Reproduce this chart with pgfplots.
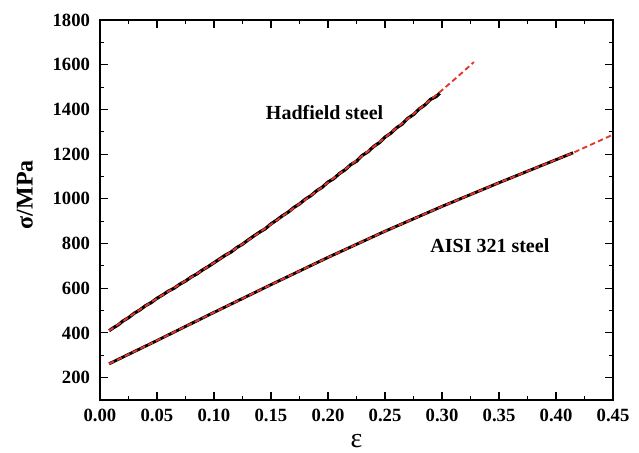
\documentclass[border=0pt]{standalone}
\usepackage{pgfplots}
\pgfplotsset{compat=1.18}
\usepackage{fontspec}
\setmainfont{Liberation Serif}
\definecolor{fitred}{RGB}{232,52,40}
\begin{document}
\begin{tikzpicture}
\begin{axis}[
  name=ax, at={(0,0)}, anchor=south west,
  scale only axis, width=384.75pt, height=285pt,
  xmin=0, xmax=0.45, ymin=100, ymax=1800,
  xtick={0,0.05,...,0.451}, ytick={200,400,...,1800},
  minor x tick num=1, minor y tick num=1,
  tick align=inside,
  major tick length=6pt, minor tick length=3pt,
  axis line style={line width=0.8pt},
  every tick/.style={line width=0.8pt, black},
  /pgf/number format/assume math mode=true,
  xticklabel style={font=\bfseries\fontsize{14}{14}\selectfont, yshift=-3pt, /pgf/number format/.cd, fixed, fixed zerofill, precision=2},
  yticklabel style={font=\bfseries\fontsize{14}{14}\selectfont, xshift=-4pt, /pgf/number format/.cd, fixed, set thousands separator={}},
  xlabel={\fontsize{21}{21}\selectfont ε},
  ylabel={\bfseries\fontsize{18}{18}\selectfont σ/MPa},
  xlabel style={yshift=-3pt},
  ylabel style={yshift=8pt, at={(ticklabel cs:0.54)}},
  clip=false,
]
% Hadfield steel, measured (noisy)
\addplot[black, line width=2.4pt] coordinates {
(0.008,410) (0.012,424) (0.016,436) (0.020,453) (0.025,468) (0.030,488) (0.035,503) (0.040,522)
(0.045,536) (0.050,555) (0.055,570) (0.060,587) (0.065,600) (0.070,618) (0.075,632) (0.080,650)
(0.085,664) (0.090,682) (0.095,697) (0.100,714) (0.105,731) (0.110,748) (0.115,762) (0.120,782)
(0.125,797) (0.130,816) (0.135,834) (0.140,851) (0.145,866) (0.150,888) (0.155,905) (0.160,924)
(0.165,940) (0.170,961) (0.175,977) (0.180,998) (0.185,1014) (0.190,1036) (0.195,1052) (0.200,1075)
(0.205,1090) (0.210,1113) (0.215,1130) (0.220,1153) (0.225,1168) (0.230,1194) (0.235,1210) (0.240,1234)
(0.245,1251) (0.250,1276) (0.255,1293) (0.260,1317) (0.265,1334) (0.270,1360) (0.275,1377) (0.280,1402)
(0.285,1420) (0.290,1445) (0.295,1458) (0.298,1472)
};
% AISI 321 steel, measured
\addplot[black, line width=2.2pt] coordinates {
(0.008,262) (0.05,366) (0.10,492) (0.15,616) (0.20,738) (0.25,855) (0.30,966) (0.35,1072) (0.40,1175) (0.415,1206)
};
% fits
\addplot[fitred, line width=1.4pt, dash pattern=on 4pt off 2.5pt] coordinates {
(0.008,410) (0.02,452) (0.03,487) (0.04,521) (0.05,554) (0.06,586) (0.07,617) (0.08,649) (0.09,681)
(0.10,714) (0.11,747) (0.12,781) (0.13,815) (0.14,850) (0.15,886) (0.16,922) (0.17,959) (0.18,996)
(0.19,1034) (0.20,1073) (0.21,1112) (0.22,1152) (0.23,1192) (0.24,1233) (0.25,1274) (0.26,1316)
(0.27,1358) (0.28,1401) (0.29,1444) (0.30,1486) (0.31,1530) (0.32,1575) (0.328,1612)
};
\addplot[fitred, line width=1.4pt, dash pattern=on 4pt off 2.5pt] coordinates {
(0.008,262) (0.05,366) (0.10,492) (0.15,616) (0.20,738) (0.25,855) (0.30,966) (0.35,1072) (0.40,1175) (0.415,1206) (0.45,1287)
};
\node[font=\bfseries\fontsize{15}{15}\selectfont] at (axis cs:0.197,1384) {Hadfield steel};
\node[font=\bfseries\fontsize{15}{15}\selectfont] at (axis cs:0.342,790) {AISI 321 steel};
\end{axis}
\pgfresetboundingbox
\useasboundingbox (-75pt,-39.75pt) rectangle (404.25pt,300pt);
\end{tikzpicture}
\end{document}
